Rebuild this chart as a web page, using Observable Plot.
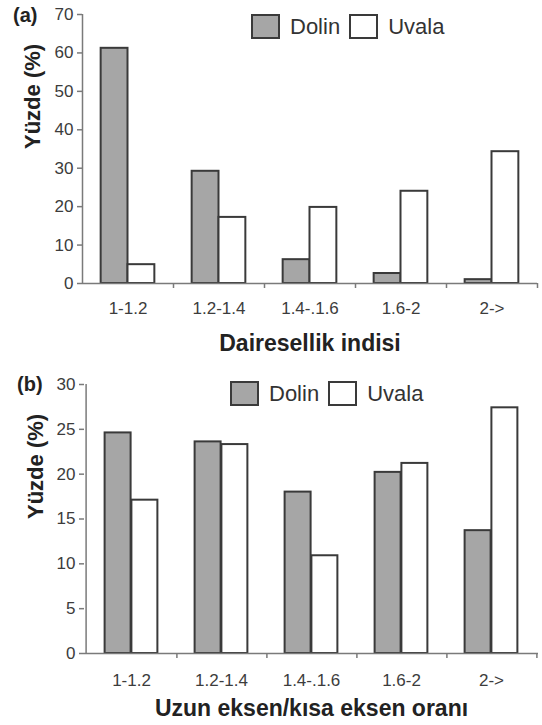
<!DOCTYPE html>
<html>
<head>
<meta charset="utf-8">
<script src="https://cdn.jsdelivr.net/npm/d3@7"></script>
<script src="https://cdn.jsdelivr.net/npm/@observablehq/plot@0.6"></script>
<style>
  html, body { margin: 0; padding: 0; background: #fff; }
  #wrap { position: relative; width: 542px; height: 725px; font-family: "Liberation Sans", Arial, sans-serif; }
  #wrap svg { display: block; font-family: "Liberation Sans", Arial, sans-serif; }
  .panel { position: relative; width: 542px; }
  .tag { position: absolute; font-weight: bold; font-size: 20px; color: #222; line-height: 1; }
  .legend { position: absolute; display: flex; align-items: center; font-size: 22px; color: #333; line-height: 1; }
  .sw { width: 25px; height: 21px; border: 2px solid #3a3a3a; margin-right: 10px; }
  .lab { margin-right: 9px; }
</style>
</head>
<body>
<div id="wrap"></div>
<script>
const categories = ["1-1.2", "1.2-1.4", "1.4-.1.6", "1.6-2", "2->"];
const seriesNames = ["Dolin", "Uvala"];
const seriesFill = ["#a6a6a6", "#ffffff"];

const dolinA = [61.2, 29.2, 6.2, 2.6, 1.0];
const uvalaA = [4.9, 17.2, 19.8, 24.0, 34.3];
const dolinB = [24.6, 23.6, 18.0, 20.2, 13.7];
const uvalaB = [17.1, 23.3, 10.9, 21.2, 27.4];

const yTicksA = [0, 10, 20, 30, 40, 50, 60, 70];
const yTicksB = [0, 5, 10, 15, 20, 25, 30];

const panelTags = ["(a)", "(b)"];
const xTitles = ["Dairesellik indisi", "Uzun eksen/kısa eksen oranı"];
const yTitle = "Yüzde (%)";

const axisColor = "#7a7a7a";
const barStroke = "#3a3a3a";
const textColor = "#3c3c3c";

function rows(dolin, uvala) {
  return {
    d: categories.map((c, i) => ({cat: c, value: dolin[i]})),
    u: categories.map((c, i) => ({cat: c, value: uvala[i]}))
  };
}

function makePanel(cfg) {
  const {dolin, uvala, ticks, height, mt, mb, ml, mr, xTitle, tickPad, titleDy, yDx} = cfg;
  const r = rows(dolin, uvala);
  const band = (542 - ml - mr) / categories.length;
  const outer = band * 0.205;
  const half = band / 2;
  return Plot.plot({
    width: 542,
    height,
    marginTop: mt,
    marginBottom: mb,
    marginLeft: ml,
    marginRight: mr,
    style: {fontFamily: "Liberation Sans, Arial, sans-serif", background: "#fff"},
    x: {domain: categories, type: "band", padding: 0},
    y: {domain: [ticks[0], ticks[ticks.length - 1]]},
    marks: [
      Plot.barY(r.d, {x: "cat", y: "value", fill: seriesFill[0], stroke: barStroke, strokeWidth: 2,
        insetLeft: outer, insetRight: half}),
      Plot.barY(r.u, {x: "cat", y: "value", fill: seriesFill[1], stroke: barStroke, strokeWidth: 2,
        insetLeft: half, insetRight: outer}),
      Plot.ruleY([0], {stroke: axisColor, strokeWidth: 1.5}),
      Plot.ruleX([categories[0]], {dx: -half, y1: ticks[0], y2: ticks[ticks.length - 1], stroke: axisColor, strokeWidth: 1.5}),
      Plot.axisY({ticks, tickSize: 5, tickPadding: 4, fontSize: 17, color: textColor, stroke: axisColor, strokeWidth: 1.5, label: null}),
      Plot.axisX({tickSize: 0, tickPadding: tickPad, fontSize: 17, color: textColor, label: null}),
      Plot.axisX({tickSize: 5, tickFormat: () => "", dx: half, stroke: axisColor, strokeWidth: 1.5, label: null}),
      Plot.text([xTitle], {frameAnchor: "bottom", dy: titleDy, fontSize: 23, fontWeight: "bold", fill: "#222", lineAnchor: "middle"}),
      Plot.text([yTitle], {frameAnchor: "left", dx: yDx, rotate: -90, fontSize: 22, fontWeight: "bold", fill: "#222", lineAnchor: "middle"})
    ]
  });
}

function legend(parent, left, top) {
  const lg = document.createElement("div");
  lg.className = "legend";
  lg.style.left = left + "px";
  lg.style.top = top + "px";
  seriesNames.forEach((n, i) => {
    const sw = document.createElement("div");
    sw.className = "sw";
    sw.style.background = seriesFill[i];
    const lb = document.createElement("span");
    lb.className = "lab";
    lb.textContent = n;
    lg.appendChild(sw);
    lg.appendChild(lb);
  });
  parent.appendChild(lg);
}

function tag(parent, text, left, top) {
  const t = document.createElement("div");
  t.className = "tag";
  t.textContent = text;
  t.style.left = left + "px";
  t.style.top = top + "px";
  parent.appendChild(t);
}

const wrap = document.getElementById("wrap");

const pA = document.createElement("div");
pA.className = "panel";
pA.appendChild(makePanel({dolin: dolinA, uvala: uvalaA, ticks: yTicksA, height: 362, mt: 14, mb: 79, ml: 82, mr: 5,
  xTitle: xTitles[0], tickPad: 18, titleDy: 60, yDx: -50}));
tag(pA, panelTags[0], 13, 5);
legend(pA, 251, 14);
wrap.appendChild(pA);

const pB = document.createElement("div");
pB.className = "panel";
pB.appendChild(makePanel({dolin: dolinB, uvala: uvalaB, ticks: yTicksB, height: 363, mt: 22, mb: 72, ml: 84, mr: 4,
  xTitle: xTitles[1], tickPad: 20, titleDy: 55, yDx: -49}));
tag(pB, panelTags[1], 17, 12);
legend(pB, 230, 19);
wrap.appendChild(pB);
</script>
</body>
</html>
